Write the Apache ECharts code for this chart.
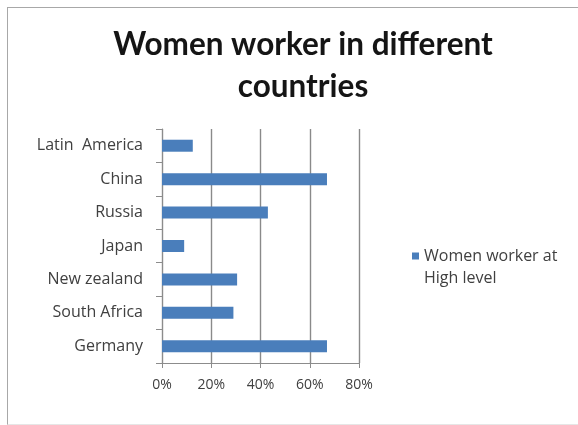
<!DOCTYPE html>
<html>
<head>
<meta charset="utf-8">
<script src="https://cdn.jsdelivr.net/npm/echarts@6/dist/echarts.min.js"></script>
<style>
html,body{margin:0;padding:0;background:#fff;}
#frame{position:absolute;left:7px;top:7px;width:580px;height:416px;border-left:1px solid #a8a8a8;border-top:1px solid #a8a8a8;border-bottom:1px solid #e6e6e6;}
#chart{position:absolute;left:0;top:0;width:578px;height:425px;}
</style>
</head>
<body>
<div id="frame"></div>
<div id="chart"></div>
<script>
var titleLines = ['Women worker in different', 'countries'];
var categories = ['Latin  America', 'China', 'Russia', 'Japan', 'New zealand', 'South Africa', 'Germany'];
var seriesName = 'Women worker at High level';
var legendLines = ['Women worker at', 'High level'];
var values = [12.5, 67, 43, 9, 30.5, 29, 67];
var xTicks = [0, 20, 40, 60, 80];

var chart = echarts.init(document.getElementById('chart'));
chart.setOption({
  backgroundColor: 'transparent',
  animation: false,
  title: {
    text: titleLines.join('\n'),
    left: 298,
    textAlign: 'center',
    top: 19,
    textStyle: {
      fontFamily: 'Lato',
      fontWeight: 'bold',
      fontSize: 31.5,
      lineHeight: 42,
      color: '#151515'
    }
  },
  legend: {
    left: 407,
    top: 240,
    orient: 'vertical',
    icon: 'path://M0,0H7V7H0Z M0,29',
    itemWidth: 7,
    itemHeight: 29,
    formatter: function () { return legendLines.join('\n'); },
    textStyle: {
      fontFamily: 'Open Sans',
      fontSize: 16,
      lineHeight: 22,
      color: '#404040'
    }
  },
  grid: {
    left: 162,
    right: 219,
    top: 129,
    bottom: 62,
    containLabel: false
  },
  xAxis: {
    type: 'value',
    min: 0,
    max: 80,
    interval: 20,
    axisLine: { show: true, lineStyle: { color: '#8c8c8c', width: 1 } },
    axisTick: { show: true, length: 5, lineStyle: { color: '#8c8c8c' } },
    splitLine: { show: true, lineStyle: { color: '#8a8a8a', width: 1.4 } },
    axisLabel: {
      margin: 15,
      formatter: '{value}%',
      fontFamily: 'Open Sans',
      fontSize: 14,
      color: '#404040'
    }
  },
  yAxis: {
    type: 'category',
    inverse: true,
    data: categories,
    axisLine: { show: true, lineStyle: { color: '#8c8c8c', width: 1 } },
    axisTick: { show: true, length: 6, lineStyle: { color: '#8c8c8c' } },
    splitLine: { show: false },
    axisLabel: {
      margin: 19,
      fontFamily: 'Open Sans',
      fontSize: 16,
      color: '#404040'
    }
  },
  series: [{
    name: seriesName,
    type: 'bar',
    data: values,
    barWidth: 12,
    itemStyle: { color: '#4a7ebb' }
  }]
});
</script>
</body>
</html>
